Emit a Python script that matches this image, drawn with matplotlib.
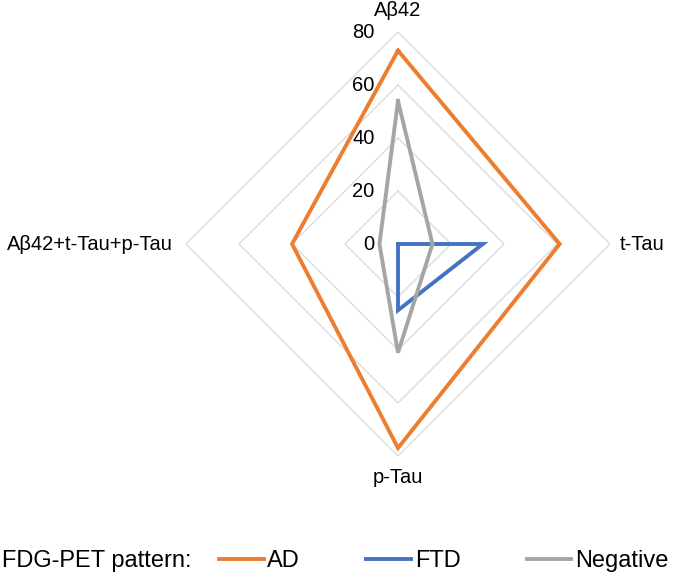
import numpy as np
import matplotlib.pyplot as plt
from matplotlib.lines import Line2D

plt.rcParams['font.family'] = ['Liberation Sans', 'DejaVu Sans']

categories = ["A\u03b242", "t-Tau", "p-Tau", "A\u03b242+t-Tau+p-Tau"]
ad = [73, 61, 77, 40]
ftd = [0, 32, 25, 0]
negative = [54, 13, 41, 7]
rings = [20, 40, 60, 80]
tick_labels = ["0", "20", "40", "60", "80"]

series = [("AD", ad, "#ED7D31"), ("FTD", ftd, "#4472C4"), ("Negative", negative, "#A5A5A5")]

theta = np.linspace(0, 2 * np.pi, len(categories), endpoint=False)
theta_c = np.append(theta, theta[0])

fig = plt.figure(figsize=(6.73, 5.77), dpi=100)
ax = fig.add_axes([0.2764, 0.2097, 0.630, 0.7348], projection="polar")
ax.set_theta_zero_location("N")
ax.set_theta_direction(-1)
ax.set_ylim(0, 80)
ax.set_axis_off()

# diamond grid
for r in rings:
    ax.plot(theta_c, [r] * len(theta_c), color="#D9D9D9", lw=0.9, zorder=1)

for name, vals, col in series:
    ax.plot(theta_c, vals + vals[:1], color=col, lw=2.8, label=name, zorder=3,
            solid_joinstyle="miter")

# category labels
fs = 14.5
ax.text(theta[0], 88, categories[0], ha="center", va="center", fontsize=fs)
ax.text(theta[1], 83.8, categories[1], ha="left", va="center", fontsize=fs)
ax.text(theta[2], 88.3, categories[2], ha="center", va="center", fontsize=fs)
ax.text(theta[3], 84.9, categories[3], ha="right", va="center", fontsize=fs)

# radial tick labels
for i, lab in enumerate(tick_labels):
    ax.annotate(lab, xy=(0, i * 20), xytext=(-17, 0), textcoords="offset points",
                ha="right", va="center", fontsize=fs)

fig.text(0.003, 16 / 577, "FDG-PET pattern:", ha="left", va="center", fontsize=17)
handles = [Line2D([], [], color=c, lw=2.8) for _, _, c in series]
fig.legend(handles, [n for n, _, _ in series], ncol=3, frameon=False,
           loc="center left", bbox_to_anchor=(219 / 673, 16 / 577),
           borderaxespad=0, borderpad=0, fontsize=17, handlelength=1.9,
           handletextpad=0.15, columnspacing=2.8)

fig.savefig("out.png", dpi=100)
